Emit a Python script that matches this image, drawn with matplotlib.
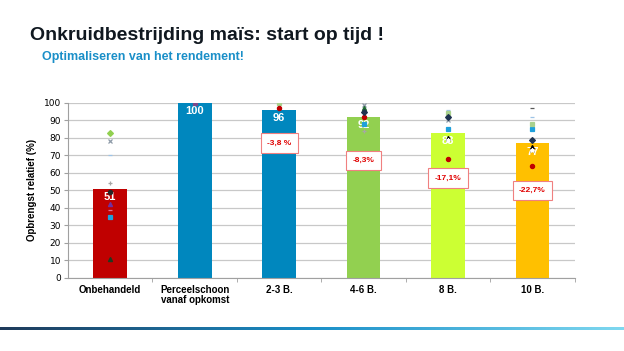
import numpy as np
import matplotlib.pyplot as plt
from matplotlib.colors import LinearSegmentedColormap

nan = np.nan
categories = ["Onbehandeld", "Perceelschoon\nvanaf opkomst", "2-3 B.", "4-6 B.", "8 B.", "10 B."]
yields = [51, 100, 96, 92, 83, 77]
bar_colors = ["#c00000", "#0087be", "#0087be", "#92d050", "#ccff33", "#ffc000"]
losses = ["", "", "-3,8 %", "-8,3%", "-17,1%", "-22,7%"]
loss_y = [nan, nan, 77, 67, 57, 50]

# individual trials (one marker style per trial)
trials = [
    ([83, nan, nan, nan, nan, nan], "D", "#92d050"),
    ([78, nan, nan, 99, 90, 73], "x", "#8e9aa8"),
    ([70, nan, nan, nan, 96, 92], "_", "#9dc3e6"),
    ([54, nan, nan, 84, nan, nan], "+", "#a6a6a6"),
    ([49, nan, nan, nan, nan, nan], "o", "#262626"),
    ([42, nan, nan, nan, nan, nan], "^", "#7030a0"),
    ([39, nan, nan, nan, nan, nan], "_", "#e07090"),
    ([35, nan, nan, 88, 85, 85], "s", "#1ea0dc"),
    ([11, nan, nan, nan, nan, nan], "^", "#1f3a1f"),
    ([nan, 100, nan, nan, nan, nan], "s", "#7b4a8a"),
    ([nan, nan, 100, nan, 94, 88], "s", "#a9d18e"),
    ([nan, nan, 97, 92, 68, 64], "o", "#c00000"),
    ([nan, nan, nan, 97, nan, nan], "^", "#1e6b2e"),
    ([nan, nan, nan, 95, 92, 79], "D", "#1f3350"),
    ([nan, nan, nan, nan, 80, 75], "^", "#000000"),
    ([nan, nan, nan, nan, 79, 73], "*", "#ffffff"),
    ([nan, nan, nan, nan, nan, 97], "_", "#595959"),
]

fig = plt.figure(figsize=(6.24, 3.51), dpi=100)
fig.patch.set_facecolor("white")

fig.text(0.048, 0.9, "Onkruidbestrijding maïs: start op tijd !", fontsize=14,
         fontweight="bold", color="#101820", va="center", family="Liberation Sans")
fig.text(0.068, 0.837, "Optimaliseren van het rendement!", fontsize=9,
         fontweight="bold", color="#1a8fc8", va="center", family="Liberation Sans")

ax = fig.add_axes([0.109, 0.208, 0.812, 0.499])
x = np.arange(len(categories))
ax.bar(x, yields, width=0.4, color=bar_colors, zorder=2)
ax.set_xlim(-0.5, 5.5)
ax.set_ylim(0, 100)
ax.set_yticks(range(0, 101, 10))
ax.yaxis.grid(True, color="#c8c8c8", linewidth=0.9, zorder=0)
ax.set_axisbelow(True)
for s in ["top", "right"]:
    ax.spines[s].set_visible(False)
for s in ["left", "bottom"]:
    ax.spines[s].set_color("#a0a0a0")
ax.tick_params(axis="y", labelsize=6.5, length=3, color="#a0a0a0", pad=2)
ax.set_xticks(x)
ax.set_xticklabels(categories, fontsize=7, fontweight="bold", family="Liberation Sans", linespacing=1.0)
ax.tick_params(axis="x", length=0, pad=5)
ax.set_xticks(np.arange(0.5, 5.6, 1), minor=True)
ax.tick_params(axis="x", which="minor", length=3, color="#a0a0a0")
ax.set_ylabel("Opbrengst relatief (%)", fontsize=7, fontweight="bold", family="Liberation Sans", labelpad=5)

for xi, v in zip(x, yields):
    ax.text(xi, v - 2, str(v), ha="center", va="top", color="white", fontsize=8,
            fontweight="bold", family="Liberation Sans", zorder=3)

for vals, m, c in trials:
    ax.plot(x, vals, linestyle="none", marker=m, color=c, markersize=3,
            markeredgewidth=0.9, zorder=4)

for xi, lab, ly in zip(x, losses, loss_y):
    if lab:
        ax.text(xi, ly, lab, ha="center", va="center", color="#e00000", fontsize=6,
                fontweight="bold", family="Liberation Sans", zorder=5,
                bbox=dict(boxstyle="square,pad=0.75", fc="white", ec="#f08080", lw=0.8))

# gradient line at bottom
lax = fig.add_axes([0.0, 0.06, 1.0, 0.007])
grad = np.linspace(0, 1, 256).reshape(1, -1)
cmap = LinearSegmentedColormap.from_list("g", ["#1f3a5a", "#1a8fc8", "#7fd8f0"])
lax.imshow(grad, aspect="auto", cmap=cmap)
lax.axis("off")

fig.savefig("out.png", dpi=100)
